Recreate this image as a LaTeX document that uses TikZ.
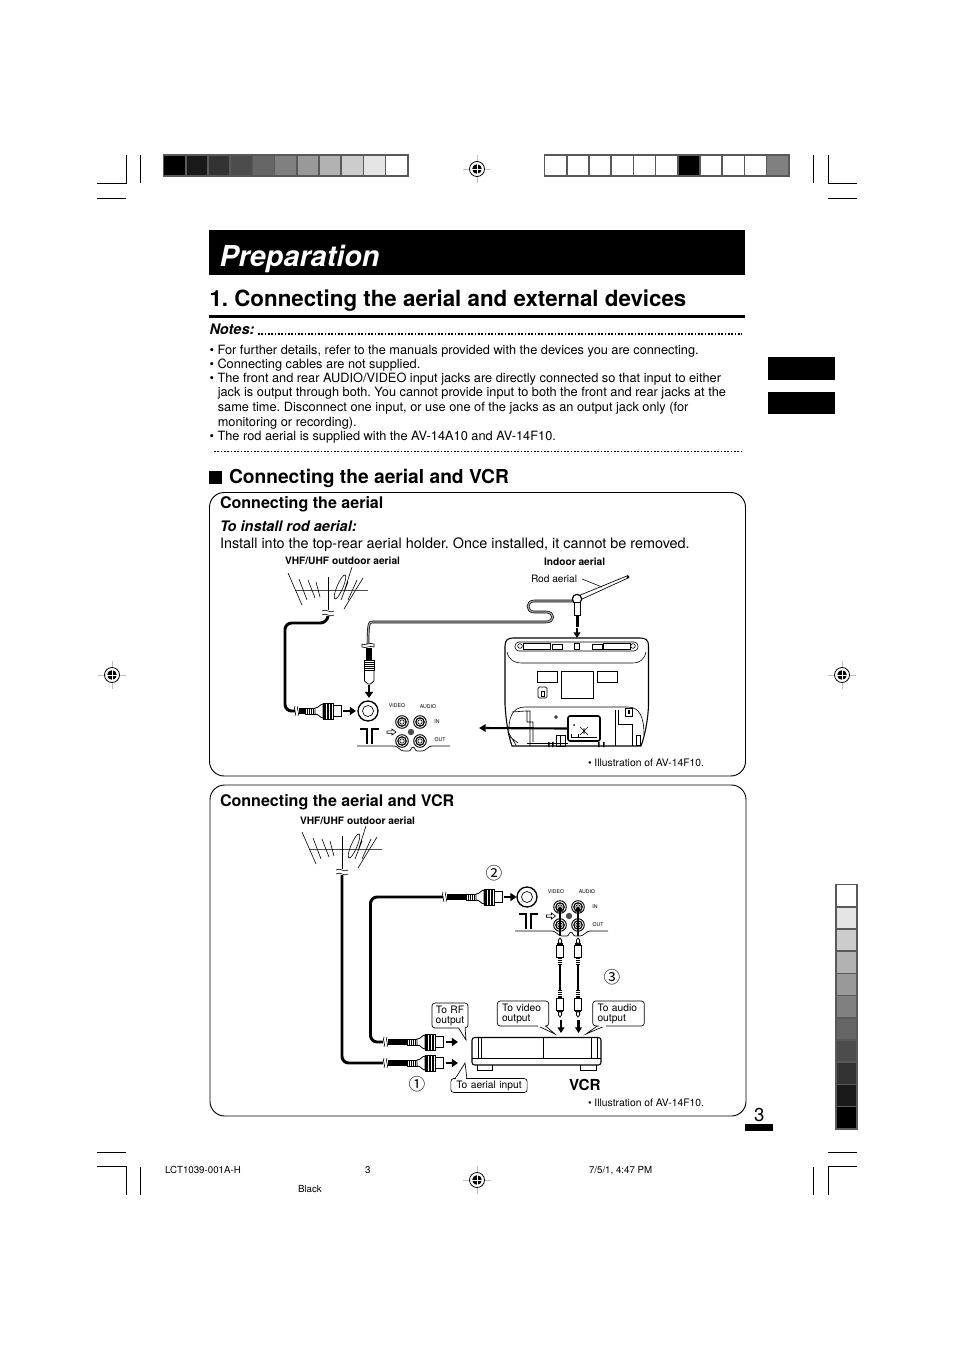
\documentclass[tikz,border=0pt]{standalone}
\usepackage{fontspec}
\setmainfont{TeX Gyre Heros}
\newfontfamily\circfont{Noto Sans CJK JP}
\usetikzlibrary{arrows.meta,shapes.geometric,calc}
\newcommand{\fsz}[1]{\fontsize{#1}{#1}\selectfont}
\frenchspacing
\tikzset{
  txt/.style={anchor=base west,inner sep=0pt,outer sep=0pt},
  body/.style={txt,font=\fsz{9.58}},
  small/.style={txt,font=\fsz{7.75}},
  tiny/.style={anchor=center,inner sep=0pt,font=\fsz{3.9}},
  lab/.style={txt,font=\fsz{7.6}},
  labb/.style={txt,font=\fsz{7.65}\bfseries},
  foot/.style={txt,font=\fsz{7.3}},
  subhead/.style={txt,font=\fsz{12.05}\bfseries},
  crop/.style={line width=.6pt},
  thin line/.style={line width=.45pt},
  cable/.style={line width=2.2pt,rounded corners=5pt},
  blackend/.style={line width=4.6pt},
  bigarrow/.style={line width=2pt,-{Triangle[length=4.6pt,width=6pt]}},
  slimarrow/.style={line width=1.5pt,-{Triangle[length=4.2pt,width=5pt]}},
  panel/.style={draw,line width=.7pt,rounded corners=11pt},
  callout/.style={draw,fill=white,line width=.5pt,rounded corners=2.2pt,align=left,font=\fsz{7.7},inner xsep=3.6pt,inner ysep=1pt},
  cell/.style={draw=black!65,line width=1.3pt},
  circnum/.style={anchor=center,inner sep=0pt,font=\circfont\fsz{12.5}},
  regmark/.pic={
    \draw[black!25,line width=.6pt] (-14,0)--(14,0) (0,-14)--(0,14);
    \fill[white] (0,0) circle (7.5);
    \draw[line width=.6pt] (0,0) circle (7.5);
    \fill (0,0) circle (4.8);
    \draw[white,line width=.7pt] (-5,0)--(5,0) (0,-5)--(0,5);
  },
  aerialpic/.pic={
    \draw[thin line,black!70] (-33,0)--(40,0);
    \draw[thin line] (0,-13)--(0,20);
    \draw[thin line] (-40,-17)--(-26,15) (-29,-11)--(-21,10) (-20,-10)--(-13,8) (-12,-8)--(-8,7);
    \draw[thin line] (12,-3) ellipse [x radius=3,y radius=13,rotate=-23];
    \draw[thin line] (24,-23)--(16,2) (20,-8)--(13,10) (29,-10)--(20,10) (35,-12)--(16,19);
    \draw[thin line] (-6,21) .. controls (-2,18) and (2,24) .. (6,21);
    \draw[thin line] (-6,25) .. controls (-2,22) and (2,28) .. (6,25);
    \coordinate (-foot) at (0,26);
  },
  coaxpic/.pic={
    \draw[thin line] (0,-3)--(10,-3)--(10,3)--(0,3)--cycle;
    \foreach \k in {2,4,6,8}{\draw[line width=.5pt] (\k,-3)--(\k,3);}
    \draw[line width=.6pt,fill=white] (10,-3) .. controls (14,-3) and (15,-7) .. (18,-7) -- (18,7) .. controls (15,7) and (14,3) .. (10,3) -- cycle;
    \draw[line width=.5pt,fill=white] (18,-8) rectangle (28,8);
    \foreach \k in {18.6,22,25.4}{\fill (\k,-8) rectangle (\k+2,8);}
    \draw[line width=.7pt,fill=white] (28,-5.5) rectangle (36,5.5);
    \coordinate (-tail) at (0,0);
    \coordinate (-tip) at (36,0);
  },
  rcapic/.pic={
    \fill (0,-1.8) rectangle (8,1.8);
    \foreach \k in {1.5,3.5,5.5}{\draw[white,line width=.4pt] (\k,-1.8)--(\k,1.8);}
    \draw[line width=.6pt,fill=white] (8,-3.4) rectangle (20,3.4);
    \fill (20,-3.4) rectangle (22,3.4);
    \draw[line width=.6pt,fill=white] (22,-1.6)--(25,-1.6)--(27,0)--(25,1.6)--(22,1.6)--cycle;
    \coordinate (-tail) at (0,0);
    \coordinate (-tip) at (27,0);
  },
  jackone/.pic={
    \draw[line width=.7pt,fill=white] (0,0) circle (6.3);
    \draw[line width=.9pt] (0,0) circle (4.2);
    \draw[thin line] (0,0) circle (2.2);
  },
  hollowarrow/.pic={
    \draw[line width=.45pt,fill=white] (0,-1.2)--(5,-1.2)--(5,-3)--(9,0)--(5,3)--(5,1.2)--(0,1.2)--cycle;
  },
  tsymbol/.pic={
    \draw[line width=1pt,line cap=butt] (-9.5,0)--(-2.5,0)--(-2.5,15);
    \draw[line width=1pt,line cap=butt] (2.5,15)--(2.5,0)--(9.5,0);
  },
}
\begin{document}
\begin{tikzpicture}[x=.75pt,y=-.75pt]
\useasboundingbox (0,0) rectangle (954,1351);
\fill[white] (0,0) rectangle (954,1351);

% ====== crop marks
\draw[crop] (97,183.5)--(126.5,183.5)--(126.5,155) (140.5,155)--(140.5,183) (97,198)--(126,198);
\draw[crop] (813.5,155)--(813.5,183) (828,155)--(828,183.5)--(857,183.5) (828,198)--(857,198);
\draw[crop] (97,1152)--(126,1152) (97,1166)--(126.5,1166)--(126.5,1195) (140.5,1167)--(140.5,1195);
\draw[crop] (828,1152)--(857,1152) (857,1166)--(828,1166)--(828,1195) (813.5,1167)--(813.5,1195);

% ====== colour bars
\foreach \i/\g in {0/100,1/90,2/80,3/70,4/60,5/50,6/40,7/30,8/20,9/10,10/0}{
  \filldraw[cell,fill=black!\g] ({163.6+\i*22.2},154.7) rectangle ++(22.2,21);
}
\foreach \i/\g in {0/0,1/0,2/0,3/0,4/0,5/0,6/100,7/0,8/0,9/0,10/50}{
  \filldraw[cell,fill=black!\g] ({544.6+\i*22.2},154.7) rectangle ++(22.2,21);
}
\foreach \i/\g in {0/0,1/10,2/20,3/30,4/40,5/50,6/60,7/70,8/80,9/90,10/100}{
  \filldraw[cell,fill=black!\g] (835.7,{884.6+\i*22.2}) rectangle ++(21,22.2);
}
\fill (768,357) rectangle (835,380);
\fill (768,392) rectangle (835,414);

% ====== registration marks
\pic at (477,169) {regmark};
\pic at (477,1180) {regmark};
\pic at (112,675) {regmark};
\pic at (842,675) {regmark};

% ====== title
\fill (209,230) rectangle (745,275);
\node[txt,text=white,font=\fsz{21.6}\bfseries\itshape] (title) at (219.5,267) {Preparation};
\node[txt,font=\fsz{16.75}\bfseries] (head) at (209.5,306.5) {1. Connecting the aerial and external devices};
\fill (209,315) rectangle (745,318);
\node[txt,font=\fsz{10.9}\bfseries\itshape] (notes) at (209.5,334.5) {Notes:};
\draw[line width=1.2pt,dash pattern=on 1.2pt off 1.3pt] (258,334)--(742,334);
\node[body] (n1) at (209.5,354) {• For further details, refer to the manuals provided with the devices you are connecting.};
\node[body] (n2) at (209.5,368.5) {• Connecting cables are not supplied.};
\node[body] (n3) at (209.5,382.5) {• The front and rear AUDIO/VIDEO input jacks are directly connected so that input to either};
\node[body] (n4) at (217.8,397) {jack is output through both. You cannot provide input to both the front and rear jacks at the};
\node[body] (n5) at (217.8,411.5) {same time. Disconnect one input, or use one of the jacks as an output jack only (for};
\node[body] (n6) at (217.8,426) {monitoring or recording).};
\node[body] (n7) at (209.5,440) {• The rod aerial is supplied with the AV-14A10 and AV-14F10.};
\draw[line width=1.2pt,dash pattern=on 1.2pt off 1.3pt] (214,451.5)--(742,451.5);

\fill (209,471) rectangle (222,484);
\node[txt,font=\fsz{14.4}\bfseries] (h2) at (229,483) {Connecting the aerial and VCR};

% ====== panels
\draw[panel] (209.5,492.5) rectangle (745.5,776);
\draw[panel] (210,785) rectangle (746,1116);

% ====== panel one, texts
\node[subhead] (s1) at (220,508) {Connecting the aerial};
\node[txt,font=\fsz{10.9}\bfseries\itshape] (s2) at (220,531) {To install rod aerial:};
\node[txt,font=\fsz{10.8}] (s3) at (220,548) {Install into the top-rear aerial holder. Once installed, it cannot be removed.};
\node[labb] (l1) at (285,564) {VHF/UHF outdoor aerial};
\node[labb] (l2) at (544,565) {Indoor aerial};
\node[lab] (l3) at (531,582) {Rod aerial};
\node[small] (l4) at (588,766) {• Illustration of AV-14F10.};

% ====== panel one, outdoor aerial and its plug
\pic (ae1) at (328,590) {aerialpic};
\pic (cp1) at (305,711) {coaxpic};
\draw[cable] (ae1-foot)--(327,623)--(285,623)--(285,711)--(295,711);
\draw[thin line] (295,706) .. controls (293,709) and (297,713) .. (295,716);
\draw[thin line] (298,706) .. controls (296,709) and (300,713) .. (298,716);
\draw[blackend] (299,711)--(cp1-tail);
\node[circle,draw,line width=1pt,minimum size=15pt,inner sep=0pt] (sock1) at (368,711) {};
\draw[line width=.5pt] (sock1) circle (5.5);
\coordinate (arr1) at (343,711);
\draw[bigarrow] (arr1)--(356,711);

% T symbol, rail and jacks
\pic at (369.5,729) {tsymbol};
\draw[line width=.5pt] (357,746)--(394,746) .. controls (398,746) and (400,751) .. (404,751) -- (409,751) .. controls (411,751) and (411,747) .. (413,747) .. controls (415,747) and (415,751) .. (417,751) -- (422,751) .. controls (426,751) and (428,746) .. (432,746) --(450,746);
\pic at (402,722) {jackone};
\pic at (420,722) {jackone};
\pic at (402,741) {jackone};
\pic at (420,741) {jackone};
\fill[black!70] (411,732) circle (3.2);
\pic at (387,732) {hollowarrow};
\node[tiny] (v1) at (397,706) {VIDEO};
\node[tiny] (a1) at (428,707) {AUDIO};
\node[tiny] (i1) at (437,722) {IN};
\node[tiny] (o1) at (440,740) {OUT};

% ====== rod aerial, lead and plugs
\coordinate (lead0) at (573,601);
\coordinate (vp) at (368,646);
\draw[line width=1.9pt] (lead0) -- (534,601) .. controls (526,601) and (526,612) .. (534,612) -- (546,612) .. controls (555,612) and (555,622) .. (546,622) -- (372,622) .. controls (369,622) and (368,624) .. (vp);
\draw[line width=.9pt,black!35] (lead0) -- (534,601) .. controls (526,601) and (526,612) .. (534,612) -- (546,612) .. controls (555,612) and (555,622) .. (546,622) -- (372,622) .. controls (369,622) and (368,624) .. (vp);
\draw[thin line,fill=white] (362,644) .. controls (365,646) and (370,642) .. (374,644) -- (374,647) .. controls (370,645) and (365,649) .. (362,647) -- cycle;
\fill (365.5,648) rectangle (371.5,660);
\draw[thin line,fill=white] (364,660) rectangle (374,670);
\foreach \yy in {662,664,666,668}{\draw[line width=.5pt] (364,\yy)--(374,\yy);}
\draw[line width=.6pt] (364.5,670)--(364.5,681)--(368,684)--(370.5,684)--(374,681)--(374,670);
\coordinate (vparrow) at (369,685);
\draw[bigarrow] (vparrow)--(369,698);

\draw[line width=.5pt] (578,596)--(628,575.5) (580,600)--(628,578);
\fill (628,577) circle (1.6);
\draw[line width=.45pt] (582,579)--(602,587);
\node[circle,draw,line width=.9pt,fill=white,minimum size=7pt,inner sep=0pt] (rodhead) at (577,599) {};
\draw[line width=.6pt,fill=white] (574.5,602)--(574.5,615)--(580,615)--(580,602)--cycle;
\fill (575.7,616) rectangle (579,627);
\coordinate (rodarrow) at (577,628);
\draw[slimarrow] (rodarrow)--(577,638);

% ====== television, rear view
\begin{scope}[line width=.6pt]
\draw[line width=.8pt] (505,646) .. controls (505,640) and (508,638) .. (513,638) -- (640,638) .. controls (646,638) and (648.5,640) .. (648.5,646) -- (648.5,705) .. controls (648,720) and (645,735) .. (641,746) -- (512,746) .. controls (508,735) and (506,720) .. (505,705) -- cycle;
\draw[thin line,rounded corners=3pt] (515,642) rectangle (638,651);
\draw[thin line] (520,646) circle (2.3) (633,646) circle (2.3);
\draw[thin line] (523,643.5) rectangle (550,649) (603,643.5) rectangle (630,649);
\draw[thin line] (552,644) rectangle (562,649) (592,644) rectangle (602,649);
\draw[thin line] (574,643) rectangle (579,649);
\draw[thin line] (507,652) .. controls (509,660) and (514,663) .. (522,663) -- (632,663) .. controls (640,663) and (644,660) .. (646,652);
\draw[thin line] (537,671) rectangle (557,682) (561,671) rectangle (593,698) (597,671) rectangle (617,682);
\draw[thin line,rounded corners=1pt] (538,687) rectangle (547,698);
\draw[thin line] (541,691) rectangle (544,696);
\draw[thin line] (509,735) .. controls (508,718) and (512,707) .. (525,707) -- (628,707) .. controls (640,707) and (644,718) .. (644,735);
\draw[thin line] (512,712)--(526,711)--(530,711)--(530,746) (527,711)--(527,722)--(533,722)--(533,742);
\draw[thin line] (527,743)--(568,743);
\draw[thin line] (556,717) circle (1.4);
\draw[thin line] (615,710)--(615,746) (618,710)--(618,724)--(632,724)--(632,746) (636,735) rectangle (640,745);
\draw[thin line] (625,708) rectangle (632,716);
\fill (627.5,710) rectangle (629.8,714);
\draw[thin line] (508,732)--(516,745) (510,737)--(518,743);
\draw[thin line] (556,735) rectangle (565,746) (560,735)--(560,746);
\fill (548,742) rectangle (549.5,747) (552,742) rectangle (553.5,747) (598,742) rectangle (599.5,747) (603,742) rectangle (604.5,747);
\end{scope}
\node[draw,line width=1.2pt,rounded corners=1.5pt,minimum width=24pt,minimum height=18.7pt,inner sep=0pt,fill=white] (jackbox) at (584,728.5) {};
\fill (574,725) circle (1);
\draw[thin line] (580,727)--(588,735) (588,727)--(580,735) (584,728)--(584,734);
\draw[thin line] (571,737)--(597,737) (571,734)--(571,737) (578,734)--(578,737);
\coordinate (panelarrow) at (479,728);
\draw[line width=1.6pt,-{Triangle[length=5pt,width=5.6pt]}] (jackbox.west)--(panelarrow);

% ====== panel two, texts
\node[subhead] (s4) at (220,806) {Connecting the aerial and VCR};
\node[labb] (l5) at (300,824) {VHF/UHF outdoor aerial};
\node[small] (l6) at (588,1106) {• Illustration of AV-14F10.};
\node[txt,font=\fsz{11.4}\bfseries] (vcrl) at (569,1090) {VCR};
\node[circnum] (c1) at (417,1084) {①};
\node[circnum] (c2) at (494,873) {②};
\node[circnum] (c3) at (612,977) {③};

% ====== panel two, aerial and cables
\pic (ae2) at (342,849) {aerialpic};
\pic (cp2) at (466,897) {coaxpic};
\pic (cp3) at (407,1042) {coaxpic};
\pic (cp4) at (407,1063) {coaxpic};
\draw[cable] (ae2-foot)--(342,1063)--(383,1063);
\draw[cable] (443,897)--(370.5,897)--(370.5,1042)--(383,1042);
\foreach \xx/\yy in {443/897,384/1042,384/1063}{
  \draw[thin line] (\xx,\yy-5) .. controls (\xx-2,\yy-2) and (\xx+2,\yy+2) .. (\xx,\yy+5);
  \draw[thin line] (\xx+3,\yy-5) .. controls (\xx+1,\yy-2) and (\xx+5,\yy+2) .. (\xx+3,\yy+5);
}
\draw[blackend] (447,897)--(cp2-tail);
\draw[blackend] (387.5,1042)--(cp3-tail);
\draw[blackend] (387.5,1063)--(cp4-tail);
\node[circle,draw,line width=1pt,minimum size=15pt,inner sep=0pt] (sock2) at (527,897) {};
\draw[line width=.5pt] (sock2) circle (5.5);
\coordinate (arr2) at (504,897);
\draw[bigarrow] (arr2)--(516.5,897);
\draw[bigarrow] (446,1042)--(458,1042);
\draw[bigarrow] (446,1063)--(458,1063);

\pic at (528.5,914) {tsymbol};
\draw[line width=.5pt] (515,931)--(552,931) .. controls (556,931) and (558,936) .. (562,936) -- (567,936) .. controls (569,936) and (569,932) .. (571,932) .. controls (573,932) and (573,936) .. (575,936) -- (580,936) .. controls (584,936) and (586,931) .. (590,931) --(608,931);
\pic at (560,907) {jackone};
\pic at (578,907) {jackone};
\pic at (560,925) {jackone};
\pic at (578,925) {jackone};
\fill[black!70] (569,916) circle (3.2);
\pic at (546.5,916) {hollowarrow};
\node[tiny] (v2) at (556,892) {VIDEO};
\node[tiny] (a2) at (587,892) {AUDIO};
\node[tiny] (i2) at (595,907) {IN};
\node[tiny] (o2) at (598,925) {OUT};
\draw[slimarrow,line width=1.6pt] (560,936)--(560,906);
\draw[slimarrow,line width=1.6pt] (578,936)--(578,906);

% RCA leads
\pic[rotate=90] (ra) at (560,965) {rcapic};
\pic[rotate=90] (rb) at (578,965) {rcapic};
\pic[rotate=-90] (rc) at (560,990) {rcapic};
\pic[rotate=-90] (rd) at (578,990) {rcapic};
\draw[line width=1.3pt] (ra-tail)--(rc-tail);
\draw[line width=1.3pt] (rb-tail)--(rd-tail);
\draw[slimarrow,line width=1.8pt] (561,1020)--(561,1033);
\draw[slimarrow,line width=1.8pt] (578.5,1020)--(578.5,1033);

% VCR
\draw[line width=.8pt,rounded corners=2pt] (472,1037.5) rectangle (601,1065);
\draw[thin line] (472,1058)--(601,1058) (478,1037.5)--(478,1058) (481,1037.5)--(481,1058) (543,1037.5)--(543,1058) (591,1037.5)--(591,1058) (597,1037.5)--(597,1058);
\draw[line width=.6pt] (477,1065)--(477,1070)--(492,1070)--(492,1065) (580,1065)--(580,1070)--(596,1070)--(596,1065);

% callouts
\coordinate (tipRF) at (466,1040);
\coordinate (tipV) at (555,1034);
\coordinate (tipA) at (586,1034);
\coordinate (tipIn) at (465,1063);
\draw[line width=.5pt] (458,1027)--(tipRF)--(465,1027) (537,1025.5)--(tipV)--(545,1025.5) (598,1025.5)--(tipA)--(606,1025.5) (455,1079)--(tipIn)--(467,1079);
\node[callout,inner xsep=2pt,text width=23pt,minimum height=18.7pt,align=center] (cRF) at (450,1015.5) {To RF\\output};
\node[callout,text width=31.5pt,minimum height=18.7pt] (cV) at (523,1013.5) {To video\\output};
\node[callout,text width=31.5pt,minimum height=18.7pt] (cA) at (618.5,1013.5) {To audio\\output};
\node[callout,text width=50pt,minimum height=10.5pt,align=center] (cIn) at (489,1085.5) {To aerial input};
\fill[white] (458.4,1026.5) -- (464.7,1026.5) -- (464.7,1029) -- (460,1029) -- cycle;
\fill[white] (537.5,1025) rectangle (544.5,1027);
\fill[white] (598.5,1025) rectangle (605.5,1027);
\fill[white] (455.6,1079) rectangle (466.4,1076.5);

% ====== page number and footer
\fill (745,1124) rectangle (773,1131);
\node[txt,font=\fsz{14}] (pg) at (754,1121) {3};
\node[foot] (f1) at (165,1173) {LCT1039-001A-H};
\node[foot] (f2) at (365,1173) {3};
\node[foot] (f3) at (589,1173) {7/5/1, 4:47 PM};
\node[foot] (f4) at (298,1192) {Black};
\end{tikzpicture}
\end{document}
